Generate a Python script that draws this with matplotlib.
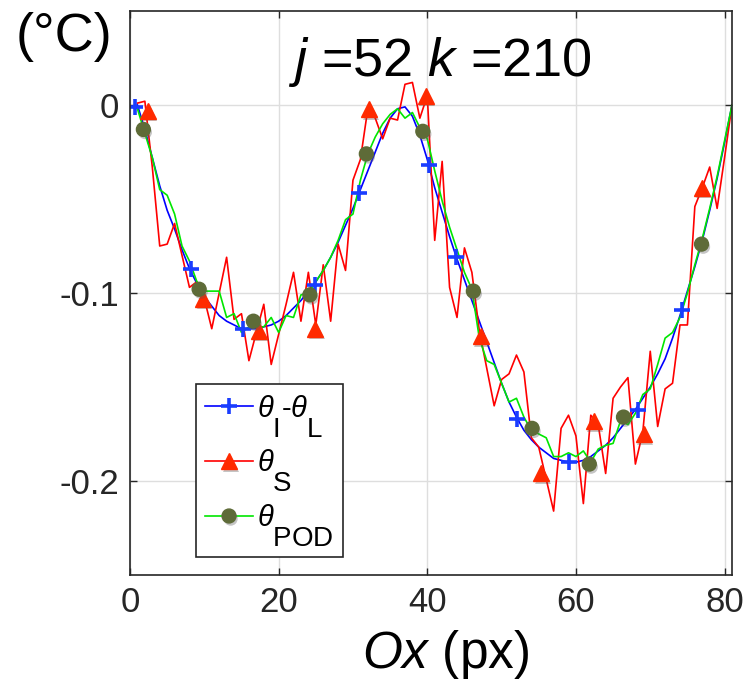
import numpy as np
import matplotlib
matplotlib.use('Agg')
import matplotlib.pyplot as plt
import matplotlib.patheffects as pe
from matplotlib.lines import Line2D
import matplotlib._mathtext as mathtext_internals

# MATLAB-like subscripts: nearly full size and dropped well below the baseline
mathtext_internals.SHRINK_FACTOR = 0.95
mathtext_internals.FontConstantsBase.sub1 = 1.25

plt.rcParams['font.family'] = ['Liberation Sans', 'DejaVu Sans']
plt.rcParams['mathtext.fontset'] = 'custom'
plt.rcParams['mathtext.rm'] = 'Liberation Sans'
plt.rcParams['mathtext.it'] = 'Liberation Sans:italic'
plt.rcParams['axes.unicode_minus'] = False

# pixel index along Ox
x = np.arange(1, 82)

# theta_I - theta_L (smooth reference)
theta_il = [0.000, -0.013, -0.028, -0.043, -0.056, -0.066, -0.077, -0.087, -0.095, -0.102,
            -0.107, -0.112, -0.115, -0.117, -0.119, -0.119, -0.119, -0.118, -0.117, -0.115,
            -0.112, -0.108, -0.104, -0.099, -0.094, -0.088, -0.081, -0.073, -0.064, -0.055,
            -0.045, -0.035, -0.025, -0.015, -0.007, -0.002, -0.001, -0.006, -0.016, -0.029,
            -0.044, -0.057, -0.070, -0.082, -0.093, -0.104, -0.115, -0.126, -0.137, -0.148,
            -0.158, -0.166, -0.173, -0.178, -0.182, -0.185, -0.188, -0.189, -0.190, -0.190,
            -0.189, -0.187, -0.184, -0.181, -0.177, -0.172, -0.167, -0.162, -0.156, -0.150,
            -0.143, -0.135, -0.124, -0.112, -0.099, -0.086, -0.072, -0.056, -0.039, -0.020,
            0.000]

# theta_S (noisy)
theta_s = [0.001, 0.002, -0.033, -0.075, -0.074, -0.063, -0.080, -0.097, -0.094, -0.103,
           -0.119, -0.100, -0.081, -0.114, -0.111, -0.136, -0.121, -0.106, -0.138, -0.122,
           -0.106, -0.089, -0.115, -0.089, -0.117, -0.085, -0.115, -0.074, -0.088, -0.040,
           -0.029, -0.002, -0.007, -0.018, -0.007, -0.008, 0.011, 0.012, -0.007, 0.005,
           -0.072, -0.030, -0.097, -0.113, -0.076, -0.089, -0.120, -0.140, -0.160, -0.146,
           -0.143, -0.133, -0.142, -0.177, -0.182, -0.199, -0.216, -0.172, -0.165, -0.176,
           -0.212, -0.165, -0.170, -0.196, -0.156, -0.150, -0.145, -0.191, -0.174, -0.131,
           -0.171, -0.151, -0.148, -0.117, -0.117, -0.054, -0.044, -0.033, -0.055, -0.028,
           0.000]

# theta_POD (reconstruction)
theta_pod = [-0.002, -0.015, -0.028, -0.045, -0.048, -0.058, -0.075, -0.083, -0.094, -0.099,
             -0.099, -0.099, -0.113, -0.111, -0.121, -0.118, -0.118, -0.118, -0.113, -0.121,
             -0.112, -0.113, -0.101, -0.100, -0.094, -0.088, -0.081, -0.072, -0.061, -0.058,
             -0.040, -0.026, -0.017, -0.010, -0.005, -0.002, -0.007, -0.004, -0.012, -0.018,
             -0.035, -0.051, -0.065, -0.077, -0.089, -0.098, -0.124, -0.136, -0.138, -0.148,
             -0.158, -0.156, -0.166, -0.173, -0.175, -0.177, -0.187, -0.187, -0.185, -0.187,
             -0.184, -0.190, -0.183, -0.181, -0.180, -0.168, -0.170, -0.164, -0.154, -0.151,
             -0.138, -0.124, -0.121, -0.113, -0.100, -0.085, -0.071, -0.055, -0.038, -0.019,
             0.000]

# marker positions
il_mk_x = [0.7, 8.2, 15.2, 24.9, 30.8, 40.2, 43.9, 52.1, 59.1, 68.4, 74.3]
il_mk_y = [-0.001, -0.087, -0.119, -0.096, -0.047, -0.032, -0.081, -0.167, -0.190, -0.162, -0.109]
s_mk_x = [2.4, 9.8, 17.4, 24.9, 32.2, 39.8, 47.2, 55.3, 62.4, 69.1, 77.0]
s_mk_y = [-0.003, -0.103, -0.120, -0.119, -0.002, 0.005, -0.123, -0.196, -0.168, -0.175, -0.044]
pod_mk_x = [1.8, 9.3, 16.6, 24.2, 31.8, 39.4, 46.2, 54.1, 61.8, 66.4, 76.9]
pod_mk_y = [-0.013, -0.098, -0.115, -0.101, -0.026, -0.014, -0.099, -0.172, -0.191, -0.166, -0.074]

x_ticks = [0, 20, 40, 60, 80]
y_ticks = [-0.2, -0.1, 0]
y_tick_labels = ['-0.2', '-0.1', '0']
labels = [r'$\theta_{\mathrm{I}}$-$\theta_{\mathrm{L}}$', r'$\theta_{\mathrm{S}}$',
          r'$\theta_{\mathrm{POD}}$']

c_il, c_il_mk = '#0000ff', '#1a3dff'
c_s, c_s_mk = '#ff0000', '#ff2a00'
c_pod, c_pod_mk = '#00e600', '#5e6b38'
dark = '#262626'

shadow = [pe.SimplePatchShadow(offset=(1.2, -2), shadow_rgbFace=(0.35, 0.35, 0.35), alpha=0.35),
          pe.Normal()]

fig = plt.figure(figsize=(7.47, 6.83), dpi=100)
ax = fig.add_axes([130 / 747, 108 / 683, 602 / 747, 564 / 683])

ax.plot(x, theta_il, color=c_il, lw=1.2)
ax.plot(x, theta_s, color=c_s, lw=1.2)
ax.plot(x, theta_pod, color=c_pod, lw=1.2)

ax.plot(il_mk_x, il_mk_y, ls='none', marker='+', ms=11, mew=2.6, color=c_il_mk)
ax.plot(s_mk_x, s_mk_y, ls='none', marker='^', ms=11.5, color=c_s_mk, path_effects=shadow)
ax.plot(pod_mk_x, pod_mk_y, ls='none', marker='o', ms=10, color=c_pod_mk, path_effects=shadow)

ax.set_xlim(0, 81)
ax.set_ylim(-0.25, 0.05)
ax.set_xticks(x_ticks)
ax.set_yticks(y_ticks, y_tick_labels)
ax.tick_params(direction='in', length=5, width=1, top=True, right=True,
               labelsize=25, colors=dark, pad=8)
ax.grid(True, color='#dedede', lw=1)
ax.set_axisbelow(True)
for sp in ax.spines.values():
    sp.set_color(dark)
    sp.set_linewidth(1.2)

ax.text(41.7, 0.0154, r'$j$ =52 $k$ =210', ha='center', va='baseline', fontsize=39)

fig.text(446 / 747, 1 - 668 / 683, r'$Ox$ (px)', ha='center', va='baseline', fontsize=37)
fig.text(16 / 747, 1 - 51 / 683, '(°C)', ha='left', va='baseline', fontsize=39)

handles = [
    Line2D([], [], color=c_il, lw=1.2, marker='+', ms=11, mew=2.6, mec=c_il_mk),
    Line2D([], [], color=c_s, lw=1.2, marker='^', ms=11.5, mfc=c_s_mk, mec=c_s_mk, path_effects=shadow),
    Line2D([], [], color=c_pod, lw=1.2, marker='o', ms=10, mfc=c_pod_mk, mec=c_pod_mk, path_effects=shadow),
]
leg = ax.legend(handles, labels, loc='lower left', bbox_to_anchor=(0.11, 0.032),
                borderaxespad=0, fontsize=21, handlelength=1.65, handletextpad=0.15,
                borderpad=0.3, labelspacing=0.3, fancybox=False, edgecolor=dark,
                framealpha=1)
leg.get_frame().set_linewidth(1.2)

fig.savefig('out.png', dpi=100)
